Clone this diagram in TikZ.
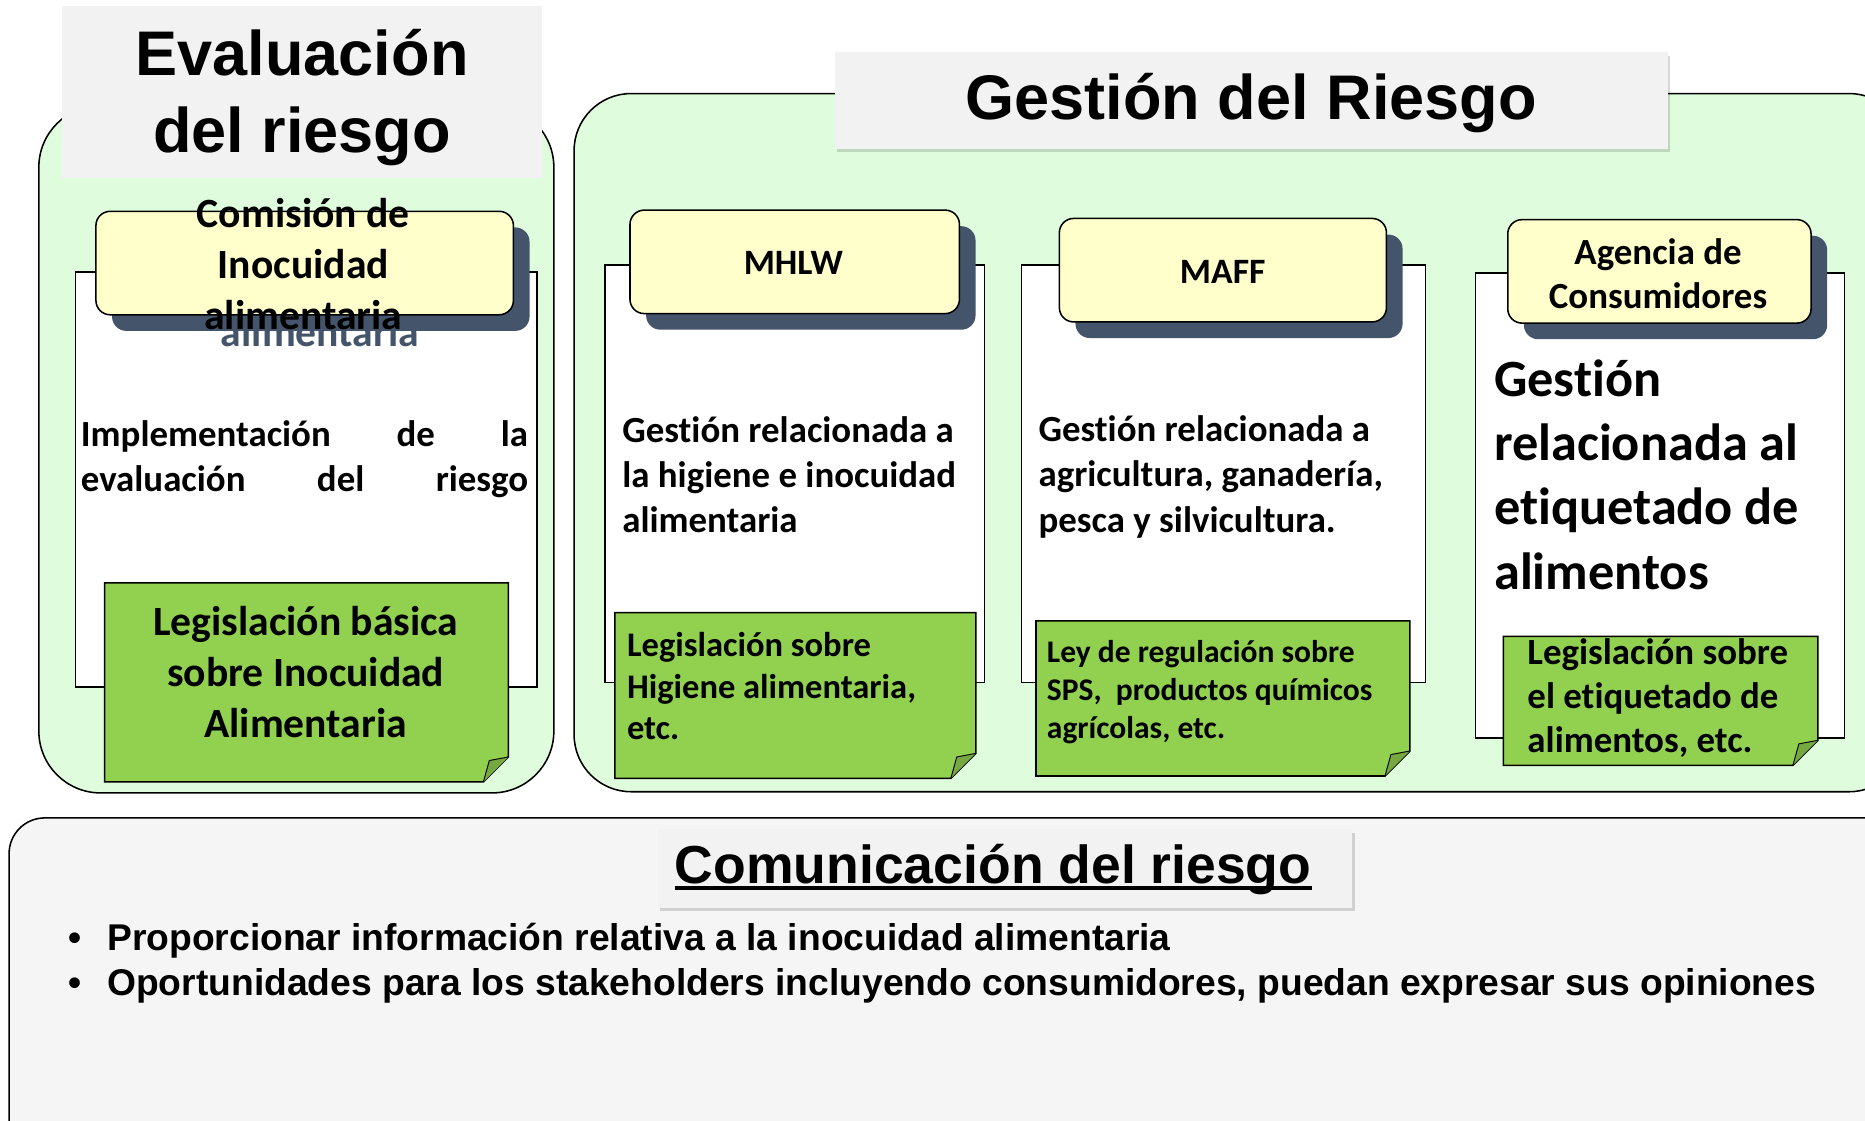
\documentclass[tikz,border=0pt]{standalone}
\usepackage{fontspec}
\setmainfont{Carlito}[Ligatures=NoCommon]
\newfontfamily\arialfont{Liberation Sans}
\usetikzlibrary{positioning, shadows}

\definecolor{panelgreen}{RGB}{223,252,221}
\definecolor{titlegray}{RGB}{242,242,242}
\definecolor{commgray}{RGB}{245,245,245}
\definecolor{headyellow}{RGB}{255,255,204}
\definecolor{slate}{RGB}{68,84,106}
\definecolor{notegreen}{RGB}{146,208,80}
\definecolor{foldgreen}{RGB}{118,168,66}

\tikzset{
  panel/.style={draw=black, line width=1.3pt, fill=panelgreen, rounded corners=52pt, inner sep=0pt, anchor=north west},
  titlebox/.style={fill=titlegray, inner sep=0pt, align=center, font=\arialfont\bfseries\fontsize{53}{65}\selectfont},
  colbox/.style={draw=black, line width=1.3pt, fill=white, inner sep=0pt, anchor=north west},
  headbox/.style={draw=black, line width=1.3pt, fill=headyellow, rounded corners=12pt, inner sep=0pt, anchor=north west},
  headshadow/.style={fill=slate, rounded corners=12pt, inner sep=0pt, anchor=north west},
  headtext/.style={align=center, inner sep=0pt, font=\bfseries\fontsize{30}{37}\selectfont},
  notebox/.style={inner sep=0pt, anchor=north west},
  bodytext/.style={align=left, inner sep=0pt, anchor=west, font=\bfseries\fontsize{31}{38}\selectfont},
  softshadow/.style={drop shadow={shadow xshift=2pt, shadow yshift=-3pt, fill=black, opacity=0.15}},
}

\begin{document}
\begin{tikzpicture}[x=1pt, y=-1pt]
    \useasboundingbox (0,0) rectangle (1568,942);
    \clip (0,0) rectangle (1568,942);

    % panels
    \node[panel, minimum width=433pt, minimum height=578pt] (evalpanel) at (32,88) {};
    \node[panel, rounded corners=48pt, minimum width=1120pt, minimum height=587pt] (gestpanel) at (482,78) {};
    \node[panel, fill=commgray, rounded corners=30pt, minimum width=1600pt, minimum height=320pt] (commpanel) at (7,687) {};

    % titles
    \node[titlebox, minimum width=404pt, minimum height=145pt] (evaltitle) at (254,77.5) {};
    \node[titlebox] (evaltext) at (254,82) {Evaluación\\del riesgo};
    \node[titlebox, softshadow, minimum width=700pt, minimum height=81pt] (gesttitle) at (1052,84.5) {};
    \node[titlebox] (gesttext) at (1052,87) {Gestión del Riesgo};
    \node[titlebox, softshadow, minimum width=584pt, minimum height=66pt] (commtitle) at (845,730) {};
    \node[font=\arialfont\bfseries\fontsize{45}{54}\selectfont, inner sep=0pt] (commtext) at (835,731) {Comunicación del riesgo};
    \draw[line width=3pt] ([yshift=-4pt]commtext.base west) -- ([yshift=-4pt]commtext.base east);

    % columns
    \node[colbox, minimum width=388pt, minimum height=349pt] (col1) at (63,228) {};
    \node[colbox, minimum width=319pt, minimum height=351pt] (col2) at (508,222) {};
    \node[colbox, minimum width=340pt, minimum height=351pt] (col3) at (858,222) {};
    \node[colbox, minimum width=310pt, minimum height=391pt] (col4) at (1240,229) {};

    % headers with shadow
    \node[headshadow, minimum width=351pt, minimum height=87pt] (s1) at (94,191) {};
    \node[headshadow, minimum width=277pt, minimum height=87pt] (s2) at (543,190) {};
    \node[headshadow, minimum width=275pt, minimum height=87pt] (s3) at (904,197) {};
    \node[headshadow, minimum width=255pt, minimum height=87pt] (s4) at (1281,198) {};
    \node[headtext, text=slate, font=\bfseries\fontsize{35}{42.5}\selectfont] (ghost1) at (269,237) {Comisión de\\Inocuidad\\alimentaria};

    \node[headbox, minimum width=351pt, minimum height=87pt] (h1) at (80,177) {};
    \node[headbox, minimum width=277pt, minimum height=87pt] (h2) at (529,176) {};
    \node[headbox, minimum width=275pt, minimum height=87pt] (h3) at (890,183) {};
    \node[headbox, minimum width=255pt, minimum height=87pt] (h4) at (1267,184) {};

    \node[headtext, font=\bfseries\fontsize{35}{42.5}\selectfont] (h1text) at (255,222) {Comisión de\\Inocuidad\\alimentaria};
    \node[headtext] (h2text) at (667,221) {MHLW};
    \node[headtext] (h3text) at (1028,229) {MAFF};
    \node[headtext, font=\bfseries\fontsize{31}{37}\selectfont] (h4text) at (1394,230.5) {Agencia de\\Consumidores};

    % column texts
    \node[bodytext, anchor=center, text width=376pt] (t1) at (256,386)
        {\hbox to 376pt{Implementación\hfill de\hfill la}\\\hbox to 376pt{evaluación\hfill del\hfill riesgo}};
    \node[bodytext] (t2) at (523,399) {Gestión relacionada a\\la higiene e inocuidad\\alimentaria};
    \node[bodytext] (t3) at (873,401) {Gestión relacionada a\\agricultura, ganadería,\\pesca y silvicultura.};
    \node[bodytext, font=\bfseries\fontsize{44}{54}\selectfont] (t4) at (1256,399) {Gestión\\relacionada al\\etiquetado de\\alimentos};

    % legislation notes
    \node[notebox, minimum width=339pt, minimum height=167pt] (n1) at (88,490) {};
    \node[notebox, minimum width=303pt, minimum height=139pt] (n2) at (517,515) {};
    \node[notebox, minimum width=314pt, minimum height=130pt] (n3) at (871,522) {};
    \node[notebox, minimum width=264pt, minimum height=108pt] (n4) at (1264,535) {};
    \foreach \n in {n1,n2,n3,n4}{
        \filldraw[fill=notegreen, line width=1.3pt] (\n.north west) -- (\n.north east) -- ([yshift=21pt]\n.south east)
            -- ([xshift=-21pt]\n.south east) -- (\n.south west) -- cycle;
        \filldraw[fill=foldgreen, line width=0.8pt, line join=round] ([yshift=21pt]\n.south east)
            -- ([xshift=-16pt,yshift=18pt]\n.south east) -- ([xshift=-21pt]\n.south east);
    }
    \node[bodytext, anchor=center, align=center, font=\bfseries\fontsize{35}{43}\selectfont] (n1text) at (257,565) {Legislación básica\\sobre Inocuidad\\Alimentaria};
    \node[bodytext, font=\bfseries\fontsize{29}{35}\selectfont] (n2text) at (527,577) {Legislación sobre\\Higiene alimentaria,\\etc.};
    \node[bodytext, font=\bfseries\fontsize{26.5}{32}\selectfont] (n3text) at (880,582) {Ley de regulación sobre\\SPS,\ \ productos químicos\\agrícolas, etc.};
    \node[bodytext, font=\bfseries\fontsize{31}{37}\selectfont] (n4text) at (1284,587) {Legislación sobre\\el etiquetado de\\alimentos, etc.};

    % communication bullets
    \node[bodytext, font=\arialfont\bfseries\fontsize{31.3}{38}\selectfont] (bullets) at (57,810)
        {\makebox[33pt][l]{•}Proporcionar información relativa a la inocuidad alimentaria\\
         \makebox[33pt][l]{•}Oportunidades para los stakeholders incluyendo consumidores, puedan expresar sus opiniones};
\end{tikzpicture}
\end{document}
